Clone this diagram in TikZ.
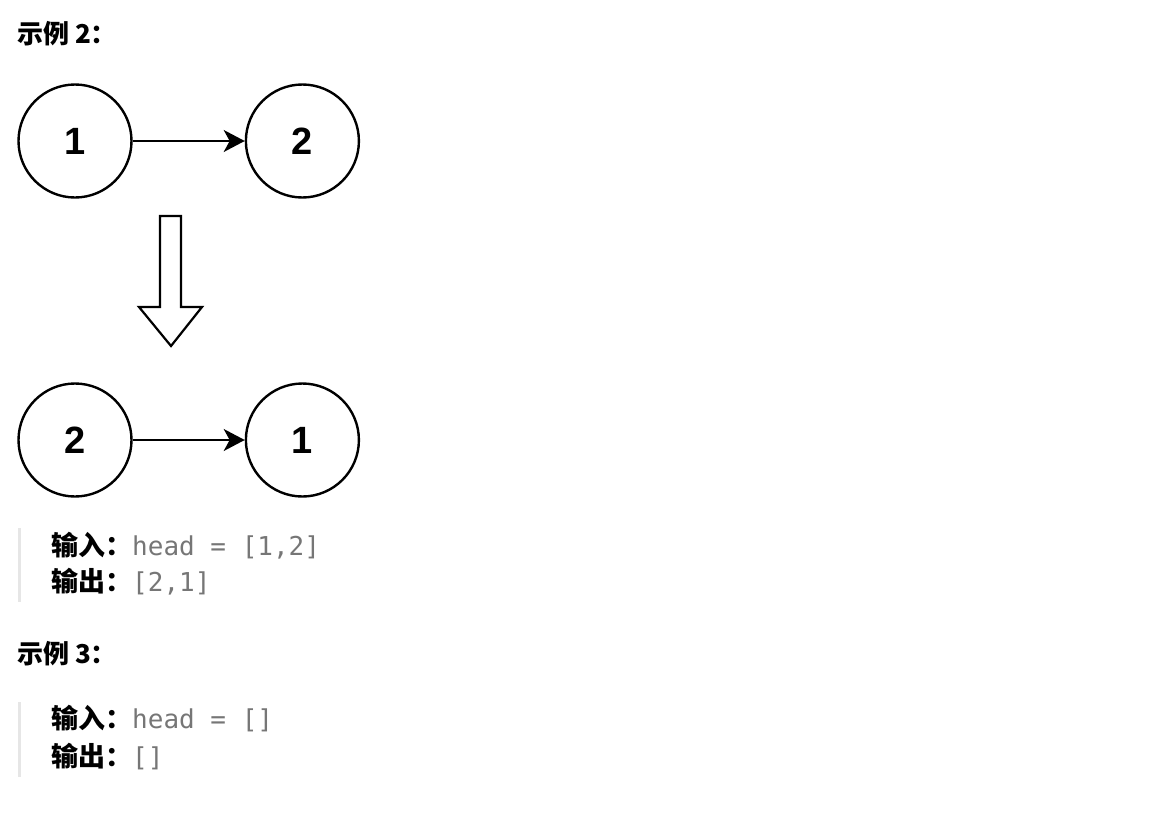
\documentclass[tikz,border=0pt]{standalone}
\usepackage{fontspec}
\newfontfamily\cjk{Noto Sans CJK SC}
\newfontfamily\numfont{Liberation Sans}
\newfontfamily\mono{DejaVu Sans Mono}
\usetikzlibrary{positioning, arrows.meta}
\definecolor{codegray}{RGB}{118,118,118}
\definecolor{barcolor}{RGB}{230,230,230}

\begin{document}
\begin{tikzpicture}[
    x=1pt, y=-1pt,
    circ/.style={circle, draw, line width=2.4pt, minimum size=113pt, inner sep=0pt,
        font=\numfont\bfseries\fontsize{38}{38}\selectfont},
    link/.style={-{Stealth[length=21pt, width=22pt, inset=6pt]}, line width=2.2pt},
    heading/.style={anchor=west, inner sep=0pt, font=\cjk\bfseries\fontsize{26}{26}\selectfont},
    io/.style={anchor=west, inner sep=0pt, font=\cjk\fontsize{27}{27}\selectfont},
    quotebar/.style={barcolor, line width=3pt},
]
\useasboundingbox (0,0) rectangle (1175,833);

% ---- Example 2 ----
\node[heading] (ex2) at (17,34) {示例\ 2：};

\node[circ] (a1) at (75,141) {1};
\node[circ, right=112pt of a1] (a2) {2};
\draw[link] (a1) -- (a2);

% big hollow arrow
\draw[line width=2.2pt, line join=miter]
    (160,216) -- (181,216) -- (181,307) -- (202,307) -- (171,346)
    -- (139,307) -- (160,307) -- cycle;

\node[circ] (b1) at (75,440) {2};
\node[circ, right=112pt of b1] (b2) {1};
\draw[link] (b1) -- (b2);

\draw[quotebar] (19.5,528) -- (19.5,602);
\node[io] (in2) at (51,546)
    {\textbf{输入：}{\mono\fontsize{26}{26}\selectfont\color{codegray}head = [1,2]}};
\node[io] (out2) at (51,582)
    {\textbf{输出：}{\mono\fontsize{26}{26}\selectfont\color{codegray}[2,1]}};

% ---- Example 3 ----
\node[heading] (ex3) at (17,654) {示例\ 3：};

\draw[quotebar] (19.5,702) -- (19.5,777);
\node[io] (in3) at (51,719)
    {\textbf{输入：}{\mono\fontsize{26}{26}\selectfont\color{codegray}head = []}};
\node[io] (out3) at (51,757)
    {\textbf{输出：}{\mono\fontsize{26}{26}\selectfont\color{codegray}[]}};

\end{tikzpicture}
\end{document}
